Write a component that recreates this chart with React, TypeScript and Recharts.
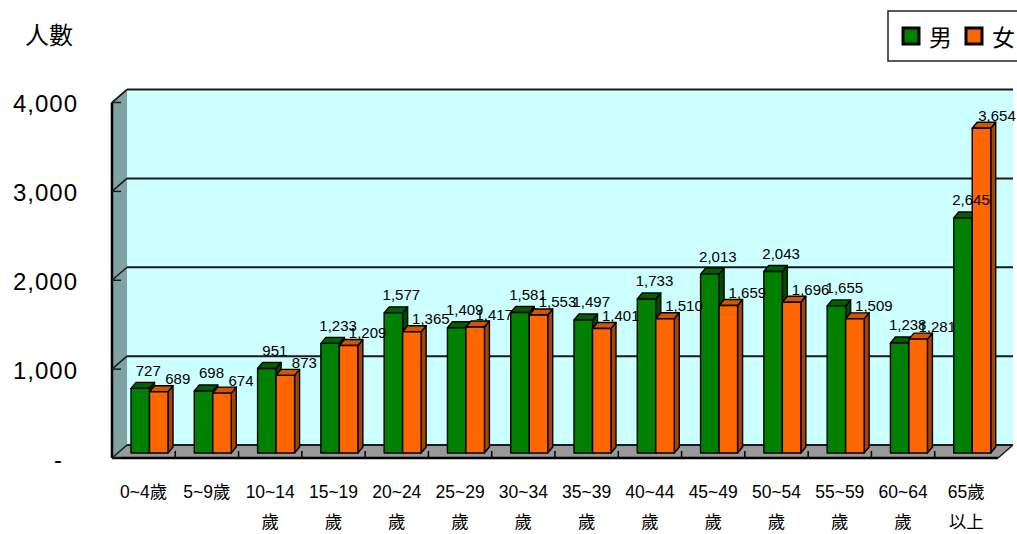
import React from 'react';
import { BarChart, Bar, XAxis, YAxis, CartesianGrid, LabelList } from 'recharts';

// ---------------- data ----------------
const categories = ['0-4', '5-9', '10-14', '15-19', '20-24', '25-29', '30-34', '35-39', '40-44', '45-49', '50-54', '55-59', '60-64', '65+'];
const tickLabels = ['0~4歲', '5~9歲', '10~14\n歲', '15~19\n歲', '20~24\n歲', '25~29\n歲', '30~34\n歲', '35~39\n歲', '40~44\n歲', '45~49\n歲', '50~54\n歲', '55~59\n歲', '60~64\n歲', '65歲\n以上'];
const male = [727, 698, 951, 1233, 1577, 1409, 1581, 1497, 1733, 2013, 2043, 1655, 1238, 2645];
const female = [689, 674, 873, 1209, 1365, 1417, 1553, 1401, 1510, 1659, 1696, 1509, 1281, 3654];
const yTicks = [0, 1000, 2000, 3000, 4000];
const seriesNames = ['男', '女'];
const yTitle = '人數';

const data = categories.map((c, i) => ({ cat: c, label: tickLabels[i], male: male[i], female: female[i] }));

// ---------------- layout / style ----------------
const W = 1017;
const H = 534;
const PLOT = { left: 118, top: 97.5, right: 1004, bottom: 453 };
const BACK = { dx: 9, dy: -8 };
const FRONT = { dx: -6, dy: 5 };
const DEPTH = { dx: 5, dy: -6 };
const FONT = "'Liberation Sans', Arial, 'Noto Sans CJK TC', sans-serif";
const CJK = "'Noto Sans CJK TC', 'Liberation Sans', sans-serif";

const COLORS = {
  male: { front: '#008000', top: '#006000', side: '#004d00' },
  female: { front: '#ff6600', top: '#d45500', side: '#a84400' },
};

const fmt = (v: number) => v.toLocaleString('en-US');

const make3DBar = (c: { front: string; top: string; side: string }) => (props: any) => {
  const { x, y, width, height } = props;
  if (width == null || height == null) return <g />;
  const { dx, dy } = DEPTH;
  const top = `${x},${y} ${x + dx},${y + dy} ${x + width + dx},${y + dy} ${x + width},${y}`;
  const side = `${x + width},${y} ${x + width + dx},${y + dy} ${x + width + dx},${y + height + dy} ${x + width},${y + height}`;
  return (
    <g stroke="#000" strokeWidth={1.4} strokeLinejoin="round">
      <polygon points={side} fill={c.side} />
      <polygon points={top} fill={c.top} />
      <rect x={x} y={y} width={width} height={height} fill={c.front} />
    </g>
  );
};

const makeLabel = (ox: number, oy: number) => (props: any) => {
  const { x, y, width, value } = props;
  const txt = fmt(value);
  const est = txt.length * 7.6;
  const cx = Math.min(x + width / 2 + ox, W - est / 2 - 1);
  return (
    <text x={cx} y={y + oy} textAnchor="middle" dominantBaseline="central" fontFamily={FONT} fontSize={15} fill="#000">
      {txt}
    </text>
  );
};

const YTick = (props: any) => {
  const { y, payload } = props;
  const v = payload.value;
  return (
    <text x={v === 0 ? 63 : 78} y={y + FRONT.dy + 1} textAnchor="end" dominantBaseline="central" fontFamily={FONT} fontSize={24} letterSpacing={1} fill="#000">
      {v === 0 ? '-' : fmt(v)}
    </text>
  );
};

const XTick = (props: any) => {
  const { x, index } = props;
  const lines = tickLabels[index].split('\n');
  return (
    <g>
      {lines.map((l, i) => (
        <text key={i} x={x + FRONT.dx} y={PLOT.bottom + 39 + i * 30} textAnchor="middle" dominantBaseline="central" fontFamily={FONT} fontSize={17.5} fill="#000">
          {l}
        </text>
      ))}
    </g>
  );
};

const GridLine = (p: any) => {
  const { x1, x2, y1, index } = p;
  const bx1 = x1 + BACK.dx;
  const bx2 = x2 + BACK.dx;
  const by = y1 + BACK.dy;
  const fx = x1 + FRONT.dx;
  const fy = y1 + FRONT.dy;
  return (
    <g key={`g-${index}`}>
      <line x1={bx1} y1={by} x2={bx2} y2={by} stroke="#1a1a1a" strokeWidth={2} />
      <line x1={bx1} y1={by} x2={fx} y2={fy} stroke="#1a1a1a" strokeWidth={1.5} />
      <line x1={fx} y1={fy} x2={fx + 9} y2={fy} stroke="#1a1a1a" strokeWidth={1.5} />
    </g>
  );
};

const Background = () => {
  const fl = PLOT.left + FRONT.dx;
  const fr = PLOT.right + FRONT.dx;
  const ft = PLOT.top + FRONT.dy;
  const fb = PLOT.bottom + FRONT.dy;
  const bl = PLOT.left + BACK.dx;
  const br = PLOT.right + BACK.dx;
  const bt = PLOT.top + BACK.dy;
  const bb = PLOT.bottom + BACK.dy;
  const band = (fr - fl) / categories.length;
  return (
    <svg width={W} height={H} style={{ position: 'absolute', left: 0, top: 0 }}>
      <rect x={bl} y={bt} width={br - bl} height={bb - bt} fill="#ccffff" />
      <polygon points={`${fl},${ft} ${bl},${bt} ${bl},${bb} ${fl},${fb}`} fill="#7fa3a3" />
      <polygon points={`${fl},${fb} ${bl},${bb} ${br},${bb} ${fr},${fb}`} fill="#999999" stroke="#555" strokeWidth={1} />
      <line x1={fl} y1={ft} x2={fl} y2={fb} stroke="#000" strokeWidth={2.5} />
      <line x1={fl} y1={ft} x2={bl} y2={bt} stroke="#222" strokeWidth={1.5} />
      <line x1={fl} y1={fb} x2={fr} y2={fb} stroke="#000" strokeWidth={2.5} />
      <line x1={fr} y1={fb} x2={br} y2={bb} stroke="#222" strokeWidth={1.5} />
      {categories.map((_, i) => (
        <line key={i} x1={fl + band * i} y1={fb - 7} x2={fl + band * i} y2={fb} stroke="#000" strokeWidth={1.5} />
      ))}
      <text x={25} y={33} dominantBaseline="central" fontFamily={CJK} fontSize={24} fill="#000">{yTitle}</text>
      {/* legend */}
      <rect x={888} y={11} width={140} height={50} fill="#fff" stroke="#222" strokeWidth={1.5} />
      <rect x={903} y={28} width={16} height={16} fill={COLORS.male.front} stroke="#000" strokeWidth={3} />
      <text x={929} y={36} dominantBaseline="central" fontFamily={CJK} fontSize={23} fill="#000">{seriesNames[0]}</text>
      <rect x={966} y={28} width={16} height={16} fill={COLORS.female.front} stroke="#000" strokeWidth={3} />
      <text x={992} y={36} dominantBaseline="central" fontFamily={CJK} fontSize={23} fill="#000">{seriesNames[1]}</text>
    </svg>
  );
};

export default function App() {
  return (
    <div style={{ position: 'absolute', left: 0, top: 0, width: W, height: H, background: '#fff', overflow: 'hidden' }}>
      <Background />
      <div style={{ position: 'absolute', left: 0, top: 0 }}>
        <BarChart
          width={W}
          height={H}
          data={data}
          barGap={0}
          barSize={18.5}
          margin={{ top: PLOT.top, left: 0, right: W - PLOT.right, bottom: 0 }}
        >
          <CartesianGrid vertical={false} horizontal={GridLine as any} />
          <XAxis dataKey="cat" height={H - PLOT.bottom} axisLine={false} tickLine={false} interval={0} tick={XTick as any} />
          <YAxis width={PLOT.left} domain={[0, 4000]} ticks={yTicks} axisLine={false} tickLine={false} interval={0} tick={YTick as any} />
          <Bar dataKey="male" name={seriesNames[0]} isAnimationActive={false} shape={make3DBar(COLORS.male)}>
            <LabelList dataKey="male" content={makeLabel(8, -18) as any} />
          </Bar>
          <Bar dataKey="female" name={seriesNames[1]} isAnimationActive={false} shape={make3DBar(COLORS.female)}>
            <LabelList dataKey="female" content={makeLabel(19, -13) as any} />
          </Bar>
        </BarChart>
      </div>
    </div>
  );
}
